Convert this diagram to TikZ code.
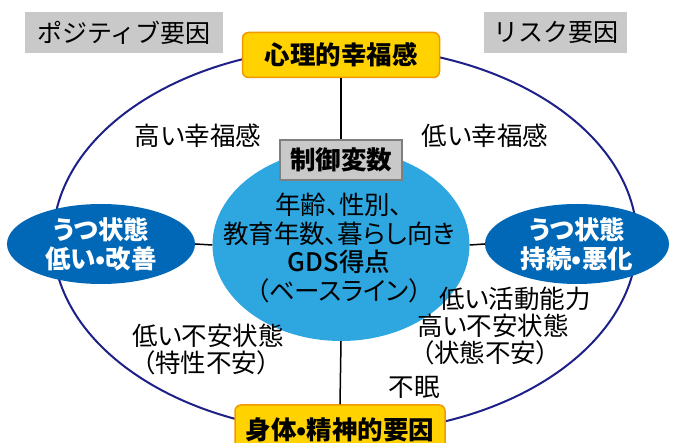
\documentclass[tikz,border=0pt]{standalone}
\usepackage{fontspec}
\setmainfont{Noto Sans CJK JP}[RawFeature=+palt]
\newfontfamily\medfont{Noto Sans CJK JP Medium}[RawFeature=+palt]
\newfontfamily\plainfont{Noto Sans CJK JP}
\usetikzlibrary{shapes.geometric}
\definecolor{navy}{HTML}{1D2088}
\definecolor{lblue}{HTML}{2EA7E0}
\definecolor{dblue}{HTML}{0068B7}
\definecolor{ybox}{HTML}{FFD200}
\definecolor{obox}{HTML}{F39800}
\definecolor{gbox}{HTML}{C9C9C9}
\definecolor{gline}{HTML}{7F7F7F}
\newcommand{\fs}{\fontsize{25.5}{29}\selectfont}
\tikzset{
  txt/.style={font=\fs, inner sep=0pt, align=center},
  labelbox/.style={fill=gbox, draw=none, font=\plainfont\fontsize{25}{29}\selectfont, minimum height=41pt, inner sep=0pt},
  keybox/.style={fill=ybox, draw=obox, line width=1.5pt, rounded corners=6pt, font=\fs\bfseries, minimum height=45pt, inner sep=0pt},
  ctrlbox/.style={fill=gbox, draw=gline, line width=1.5pt, font=\fs\bfseries, minimum width=122pt, minimum height=40pt, inner sep=0pt},
  outcome/.style={ellipse, fill=dblue, draw=none, text=white, font=\fs\bfseries, align=center, inner sep=0pt},
  bluecirc/.style={ellipse, fill=lblue, minimum width=257pt, minimum height=192pt, inner sep=0pt},
  conn/.style={line width=1.5pt, black},
}
\begin{document}
\begin{tikzpicture}[x=1pt,y=-1pt]
\useasboundingbox (0,0) rectangle (673,443);
% big outline ellipse
\draw[navy, line width=2pt] (345,240) ellipse [x radius=292, y radius=193];
% nodes
\node[bluecirc] (circ) at (341,245) {};
\node[keybox, minimum width=197pt] (top) at (341,55) {心理的幸福感};
\node[keybox, minimum width=210pt, minimum height=50pt] (bot) at (340,430) {身体•精神的要因};
\node[outcome, minimum width=188pt, minimum height=80pt] (left) at (101,244) {うつ状態\\低い•改善};
\node[outcome, minimum width=184pt, minimum height=80pt] (right) at (577,244) {うつ状態\\持続•悪化};
% connectors
\draw[conn] (top.south) -- (circ.north);
\draw[conn] (circ.south) -- (bot.north);
\draw[conn] (left.east) -- (circ.west);
\draw[conn] (circ.east) -- (right.west);
% circle text
\node[txt, font=\fontsize{25.5}{28.5}\selectfont] (ctext) at (339,248) {年齢、性別、\\教育年数、暮らし向き\\{\medfont GDS得点}\\（ベースライン）};
\node[ctrlbox] (ctrl) at (341,160) {制御変数};
% corner labels
\node[labelbox, minimum width=198pt] (pos) at (124,32.5) {ポジティブ要因};
\node[labelbox, minimum width=143pt] (risk) at (555.5,32.5) {リスク要因};
% edge labels
\node[txt] (hw) at (198,136) {高い幸福感};
\node[txt] (lw) at (485,136) {低い幸福感};
\node[txt] (la) at (208,336) {低い不安状態};
\node[txt] (ta) at (206,363) {（特性不安）};
\node[txt] (lc) at (515,299) {低い活動能力};
\node[txt] (ha) at (493,326) {高い不安状態};
\node[txt] (sa) at (485,353) {（状態不安）};
\node[txt] (ins) at (414,387) {不眠};
\end{tikzpicture}
\end{document}
